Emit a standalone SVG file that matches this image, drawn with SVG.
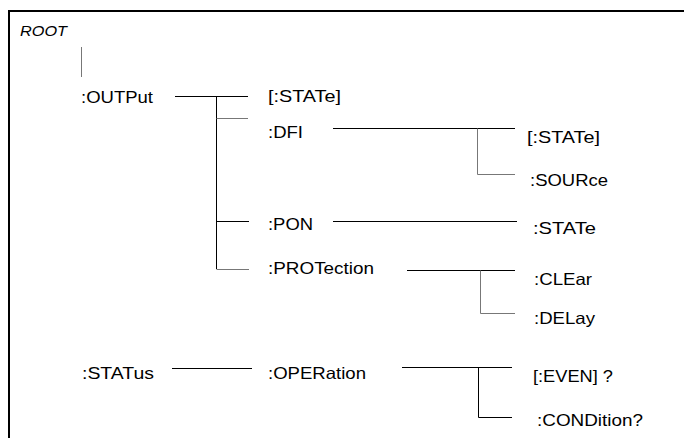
<svg xmlns="http://www.w3.org/2000/svg" width="684" height="438" viewBox="0 0 684 438">
<style>
text{font-family:"Liberation Sans",Arial,sans-serif;font-size:16.5px;fill:#000}
.it{font-style:italic;font-size:15px}
.ln{stroke:#000;stroke-width:1;fill:none}
.gr{stroke:#777;stroke-width:1;fill:none}
</style>
<rect width="684" height="438" fill="#fff"/>
<path d="M9,438 V11 H684" stroke="#000" stroke-width="2" fill="none"/>
<g id="connectors">
<path class="gr" d="M81.5,47 V77"/>
<path class="ln" d="M175,96.5 H248 M216.5,96.5 V269"/>
<path class="gr" d="M216.5,118.5 H248"/>
<path class="ln" d="M216.5,221.5 H249"/>
<path class="gr" d="M216.5,269.5 H249"/>
<path class="ln" d="M333,128.5 H515"/>
<path class="gr" d="M477.5,128.5 V174.5 H515"/>
<path class="ln" d="M333,221.5 H517"/>
<path class="ln" d="M407,270.5 H515"/>
<path class="gr" d="M480.5,270.5 V313.5 H515"/>
<path class="ln" d="M172,368.5 H252"/>
<path class="ln" d="M402,367.5 H512 M478.5,367.5 V417.5 H512"/>
</g>
<g id="root"><text class="it" x="20" y="36" textLength="47" lengthAdjust="spacingAndGlyphs">ROOT</text></g>
<g id="output"><text x="81" y="103" textLength="72" lengthAdjust="spacingAndGlyphs">:OUTPut</text></g>
<g id="output-state"><text x="268" y="102" textLength="73" lengthAdjust="spacingAndGlyphs">[:STATe]</text></g>
<g id="dfi"><text x="268" y="138" textLength="35" lengthAdjust="spacingAndGlyphs">:DFI</text></g>
<g id="dfi-state"><text x="527" y="143" textLength="73" lengthAdjust="spacingAndGlyphs">[:STATe]</text></g>
<g id="dfi-source"><text x="530" y="186" textLength="78" lengthAdjust="spacingAndGlyphs">:SOURce</text></g>
<g id="pon"><text x="268" y="230" textLength="45" lengthAdjust="spacingAndGlyphs">:PON</text></g>
<g id="pon-state"><text x="533" y="234" textLength="63" lengthAdjust="spacingAndGlyphs">:STATe</text></g>
<g id="protection"><text x="268" y="274" textLength="106" lengthAdjust="spacingAndGlyphs">:PROTection</text></g>
<g id="clear"><text x="534" y="285" textLength="58" lengthAdjust="spacingAndGlyphs">:CLEar</text></g>
<g id="delay"><text x="534" y="324" textLength="61" lengthAdjust="spacingAndGlyphs">:DELay</text></g>
<g id="status"><text x="82" y="379" textLength="72" lengthAdjust="spacingAndGlyphs">:STATus</text></g>
<g id="operation"><text x="268" y="379" textLength="98" lengthAdjust="spacingAndGlyphs">:OPERation</text></g>
<g id="even"><text x="533" y="382" textLength="80" lengthAdjust="spacingAndGlyphs">[:EVEN] ?</text></g>
<g id="condition"><text x="537" y="426" textLength="106" lengthAdjust="spacingAndGlyphs">:CONDition?</text></g>
</svg>
